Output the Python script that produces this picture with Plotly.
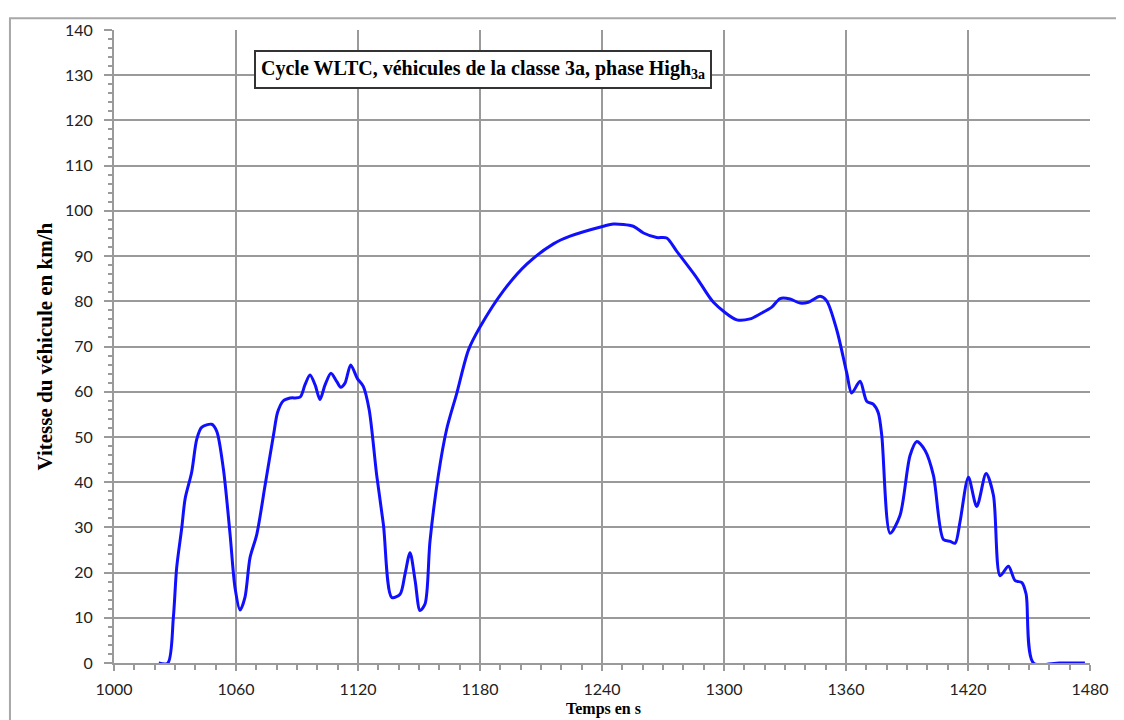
import plotly.graph_objects as go

# Time (s) and vehicle speed (km/h)
time_s = [1022, 1026.5, 1029.2, 1030.8, 1033.3, 1035, 1038.2, 1040.7, 1043.1, 1048,
          1050.5, 1053.8, 1057.1, 1059.5, 1062, 1064.4, 1066.9, 1070.2, 1074.3, 1078.4,
          1080.5, 1083.3, 1086.6, 1091.5, 1093.9, 1096.4, 1098.9, 1101.3, 1103.8, 1106.7,
          1109.5, 1111.5, 1113.6, 1116.4, 1119.7, 1122.6, 1125.5, 1129.2, 1132.5, 1136.6,
          1140.7, 1143.1, 1145.6, 1148.1, 1150.5, 1153, 1155.4, 1159.5, 1163.6, 1168.6,
          1174.3, 1180, 1191.5, 1203, 1216.1, 1224.3, 1240.7, 1245.6, 1255.4, 1260.4,
          1266.9, 1271.8, 1276.7, 1286.6, 1294.8, 1306.3, 1312.8, 1317.7, 1323.5, 1327.6,
          1332.5, 1337.4, 1341.5, 1347.3, 1350.5, 1355.5, 1360.4, 1362.8, 1366.9, 1370.2,
          1373.5, 1375.9, 1377.6, 1381.7, 1386.6, 1391.5, 1394.8, 1398.9, 1403, 1407.9,
          1411.2, 1413.7, 1416.1, 1420.2, 1424.3, 1428.9, 1432.5, 1435.8, 1439.9, 1443.2,
          1446.5, 1448.6, 1452.2, 1465, 1477.5]
speed_kmh = [0, 0, 10.1, 21, 29.8, 36.4, 42.2, 49.5, 52.1, 52.8,
             51.3, 42.9, 28.4, 16.7, 11.7, 14.5, 23.3, 28.4, 39.3, 50.3,
             55.5, 58.0, 58.6, 58.8, 61.5, 63.7, 61.5, 58.3, 61.5, 64.1,
             62.3, 61.0, 61.9, 65.9, 62.9, 61.2, 56.0, 41.5, 30.6, 14.5,
             15.2, 19.6, 24.4, 18.2, 11.6, 13.1, 26.9, 41.5, 51.7, 59.7,
             69.2, 74.3, 82.3, 88.2, 92.7, 94.4, 96.6, 97.1, 96.6, 95.1,
             94.1, 94.0, 91.1, 85.2, 79.8, 75.9, 76.1, 77.2, 78.7, 80.6,
             80.5, 79.6, 79.8, 81.1, 80.1, 73.6, 64.1, 59.7, 62.3, 57.9,
             57.2, 55.3, 50.3, 28.7, 32.7, 45.9, 49.0, 47.0, 41.5, 27.3,
             26.9, 26.5, 31.3, 41.1, 34.6, 41.9, 37.1, 19.3, 21.4, 18.2,
             17.8, 15.2, 0, 0, 0]

x_ticks = [1000, 1060, 1120, 1180, 1240, 1300, 1360, 1420, 1480]
y_ticks = [0, 10, 20, 30, 40, 50, 60, 70, 80, 90, 100, 110, 120, 130, 140]

title_text = "Cycle WLTC, véhicules de la classe 3a, phase High<sub>3a</sub>"
y_title = "Vitesse du véhicule en km/h"
x_title = "Temps en s"

grid_col = "#9a9a9a"
tick_font = dict(family="Lato", size=16, color="#222222")

fig = go.Figure()
fig.add_trace(go.Scatter(
    x=time_s, y=speed_kmh, mode="lines",
    line=dict(color="#1010ff", width=3, shape="spline", smoothing=0.8),
    showlegend=False, hoverinfo="skip", xaxis="x", yaxis="y"))

fig.update_layout(
    width=1116, height=712,
    margin=dict(l=106, r=34, t=15, b=57),
    paper_bgcolor="white", plot_bgcolor="white",
    showlegend=False,
    xaxis=dict(range=[1000, 1480], tickvals=x_ticks, ticktext=[str(v) for v in x_ticks],
               showgrid=True, gridcolor=grid_col, gridwidth=2,
               showline=True, linecolor=grid_col, linewidth=2,
               ticks="outside", ticklen=6, tickwidth=2, tickcolor=grid_col,
               minor=dict(dtick=10, tick0=1000, ticks="outside", ticklen=5,
                          tickwidth=2, tickcolor=grid_col, showgrid=False),
               tickfont=tick_font, zeroline=False, mirror=False,
               ticklabelstandoff=5),
    yaxis=dict(range=[0, 140], tickvals=y_ticks,
               showgrid=True, gridcolor=grid_col, gridwidth=2,
               showline=True, linecolor=grid_col, linewidth=2,
               ticks="outside", ticklen=8, tickwidth=2, tickcolor=grid_col,
               minor=dict(dtick=2, tick0=0, ticks="outside", ticklen=4,
                          tickwidth=2, tickcolor=grid_col, showgrid=False),
               tickfont=tick_font, zeroline=False,
               ticklabelstandoff=8),
    xaxis2=dict(range=[1000, 1480], overlaying="x", anchor="y2", side="bottom",
                showgrid=False, showline=False, showticklabels=False,
                tickvals=x_ticks, ticks="inside", ticklen=6, tickwidth=2, tickcolor=grid_col,
                minor=dict(dtick=10, tick0=1000, ticks="inside", ticklen=5,
                           tickwidth=2, tickcolor=grid_col, showgrid=False),
                zeroline=False),
    yaxis2=dict(range=[0, 140], overlaying="y", anchor="x2", side="left",
                showgrid=False, showline=False, showticklabels=False,
                tickvals=y_ticks, ticks="inside", ticklen=4, tickwidth=2, tickcolor=grid_col,
                minor=dict(dtick=2, tick0=0, ticks="inside", ticklen=4,
                           tickwidth=2, tickcolor=grid_col, showgrid=False),
                zeroline=False),
)

# outer chart border
fig.add_shape(type="rect", xref="paper", yref="paper",
              x0=-0.1066, x1=1.0318, y0=-0.12, y1=1.01875,
              line=dict(color="#a8a8a8", width=2), fillcolor="rgba(0,0,0,0)", layer="below")

# title box
fig.add_annotation(xref="paper", yref="paper", x=(483 - 114) / 976, y=(663 - 63) / 640,
                   text=title_text, showarrow=False,
                   font=dict(family="Liberation Serif", size=20, color="black", weight="bold"),
                   bordercolor="#333333", borderwidth=2, borderpad=5, bgcolor="white",
                   xanchor="center", yanchor="middle")

# axis titles
fig.add_annotation(xref="paper", yref="paper", x=(44 - 114) / 976, y=0.5,
                   text=y_title, showarrow=False, textangle=-90,
                   font=dict(family="Liberation Serif", size=21, color="black", weight="bold"),
                   xanchor="center", yanchor="middle")
fig.add_annotation(xref="paper", yref="paper", x=(603 - 114) / 976, y=(663 - 710) / 640,
                   text=x_title, showarrow=False,
                   font=dict(family="Liberation Serif", size=16, color="black", weight="bold"),
                   xanchor="center", yanchor="middle")

fig.write_html("out.html")
